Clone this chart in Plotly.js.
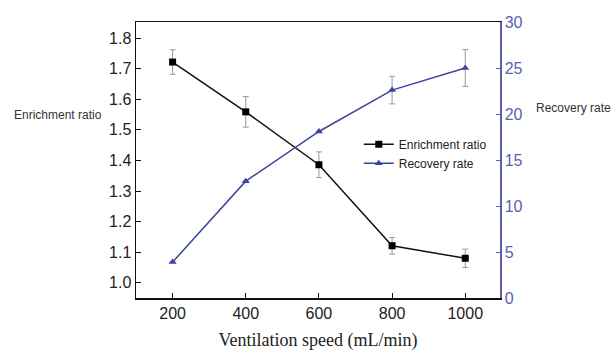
<!DOCTYPE html>
<html><head><meta charset="utf-8">
<script src="https://cdn.plot.ly/plotly-3.0.1.min.js"></script>
<style>html,body{margin:0;padding:0;background:#fff}#chart{width:614px;height:351px}</style>
</head><body><div id="chart"></div>
<script>
const speeds = [200, 400, 600, 800, 1000];
const enrichment = [1.722, 1.559, 1.386, 1.121, 1.080];
const enrichmentErr = [0.04, 0.05, 0.042, 0.027, 0.03];
const recovery = [3.9, 12.7, 18.1, 22.6, 25.0];
const recoveryErr = [0, 0, 0, 1.5, 2.0];
const leftTicks = [1.0, 1.1, 1.2, 1.3, 1.4, 1.5, 1.6, 1.7, 1.8];
const rightTicks = [0, 5, 10, 15, 20, 25, 30];

const blue = '#3d449c';
const axisBlue = '#5a5fb0';

const traces = [
  {x: speeds, y: enrichment, name: 'Enrichment ratio', type: 'scatter', mode: 'lines+markers',
   line: {color: '#111', width: 1.5}, marker: {symbol: 'square', size: 7, color: '#000'},
   error_y: {type: 'data', array: enrichmentErr, visible: true, color: '#999', thickness: 1, width: 3}},
  {x: speeds, y: recovery, name: 'Recovery rate', type: 'scatter', mode: 'lines+markers', yaxis: 'y2',
   line: {color: blue, width: 1.5}, marker: {symbol: 'triangle-up', size: 7, color: blue},
   error_y: {type: 'data', array: recoveryErr, visible: true, color: '#999', thickness: 1, width: 3}}
];

const layout = {
  width: 614, height: 351,
  margin: {l: 136, r: 114, t: 22, b: 53},
  paper_bgcolor: '#fff', plot_bgcolor: '#fff',
  font: {family: 'Arial, Liberation Sans, sans-serif', color: '#222'},
  showlegend: true,
  legend: {x: 0.612, y: 0.61, xanchor: 'left', yanchor: 'top', bgcolor: 'rgba(0,0,0,0)',
           font: {size: 12, color: '#222'}, tracegroupgap: 0, itemwidth: 30},
  xaxis: {range: [100, 1095], tickvals: speeds, showgrid: false, zeroline: false,
          showline: true, linecolor: '#111', linewidth: 1.5, mirror: true,
          ticks: 'inside', ticklen: 5, tickcolor: '#111', tickfont: {size: 16, color: '#222'},
          title: {text: 'Ventilation speed (mL/min)', font: {family: 'Liberation Serif, Times New Roman, serif', size: 18, color: '#222'}, standoff: 12}},
  yaxis: {range: [0.95, 1.853], tickvals: leftTicks, ticktext: leftTicks.map(v => v.toFixed(1)),
          showgrid: false, zeroline: false, showline: true, linecolor: '#111', linewidth: 1.5,
          ticks: 'inside', ticklen: 5, tickcolor: '#111', tickfont: {size: 16, color: '#222'}},
  yaxis2: {range: [0, 30], tickvals: rightTicks, overlaying: 'y', side: 'right',
           showgrid: false, zeroline: false, showline: true, linecolor: axisBlue, linewidth: 1.5,
           ticks: 'inside', ticklen: 4, tickcolor: axisBlue, tickfont: {size: 16, color: axisBlue}},
  annotations: [
    {text: 'Enrichment ratio', xref: 'paper', yref: 'paper', x: -0.34, y: 0.663, xanchor: 'left', yanchor: 'middle',
     showarrow: false, font: {size: 12, color: '#333'}},
    {text: 'Recovery rate', xref: 'paper', yref: 'paper', x: 1.093, y: 0.688, xanchor: 'left', yanchor: 'middle',
     showarrow: false, font: {size: 12, color: '#333'}}
  ]
};

Plotly.newPlot('chart', traces, layout, {displayModeBar: false, staticPlot: true});
</script></body></html>
